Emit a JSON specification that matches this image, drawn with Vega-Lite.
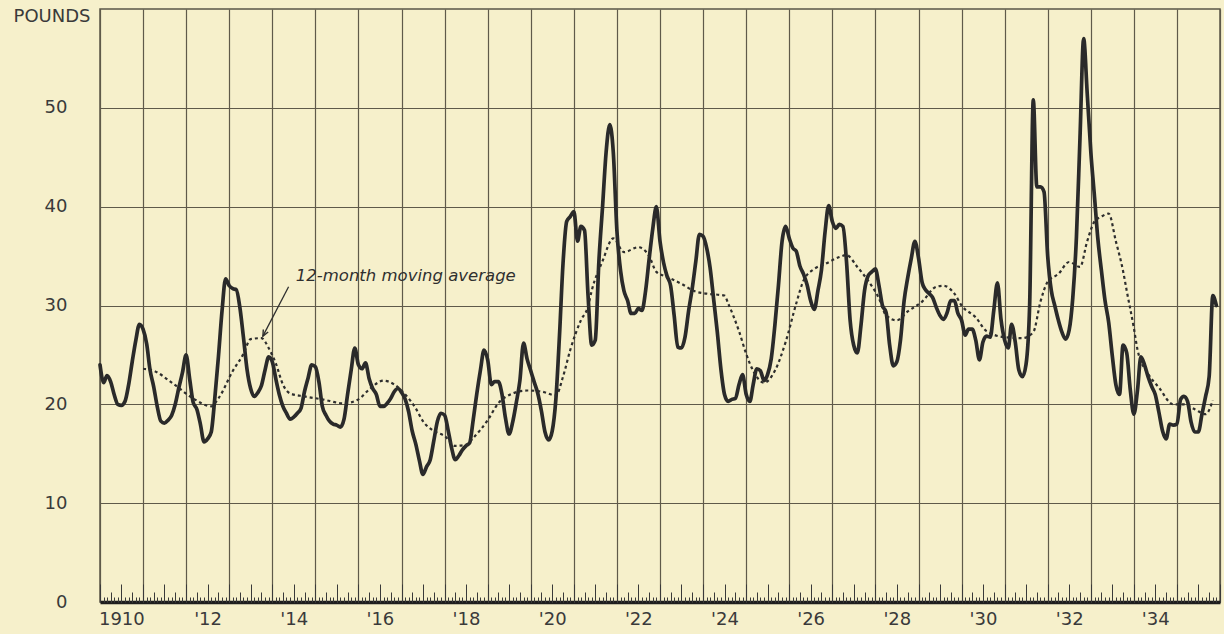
{
  "$schema": "https://vega.github.io/schema/vega-lite/v6.json",
  "width": 1120,
  "height": 593,
  "autosize": {"type": "none"},
  "padding": {"left": 100, "top": 9, "right": 4, "bottom": 32},
  "background": "#f6f0cb",
  "config": {"view": {"stroke": "#5a5548", "strokeWidth": 1.5}, "font": "DejaVu Sans"},
  "resolve": {"axis": {"x": "independent", "y": "independent"}},
  "datasets": {
    "main": [
      {"d":"1910-01","v":24},{"d":"1910-02","v":22.2},{"d":"1910-03","v":22.9},{"d":"1910-04","v":22.3},{"d":"1910-05","v":21},{"d":"1910-06","v":20},{"d":"1910-07","v":19.9},{"d":"1910-08","v":20.3},{"d":"1910-09","v":22},{"d":"1910-10","v":24.3},{"d":"1910-11","v":26.5},{"d":"1910-12","v":28.1},
      {"d":"1911-01","v":27.6},{"d":"1911-02","v":26.1},{"d":"1911-03","v":23.5},{"d":"1911-04","v":21.8},{"d":"1911-05","v":19.8},{"d":"1911-06","v":18.3},{"d":"1911-07","v":18.1},{"d":"1911-08","v":18.4},{"d":"1911-09","v":18.9},{"d":"1911-10","v":20},{"d":"1911-11","v":21.7},{"d":"1911-12","v":23.2},
      {"d":"1912-01","v":25},{"d":"1912-02","v":22.5},{"d":"1912-03","v":20.2},{"d":"1912-04","v":19.5},{"d":"1912-05","v":18},{"d":"1912-06","v":16.2},{"d":"1912-07","v":16.5},{"d":"1912-08","v":17.2},{"d":"1912-09","v":20.7},{"d":"1912-10","v":24.8},{"d":"1912-11","v":29.5},{"d":"1912-12","v":32.7},
      {"d":"1913-01","v":32},{"d":"1913-02","v":31.7},{"d":"1913-03","v":31.6},{"d":"1913-04","v":29.8},{"d":"1913-05","v":26.8},{"d":"1913-06","v":23.5},{"d":"1913-07","v":21.6},{"d":"1913-08","v":20.8},{"d":"1913-09","v":21.2},{"d":"1913-10","v":21.9},{"d":"1913-11","v":23.5},{"d":"1913-12","v":24.8},
      {"d":"1914-01","v":24.3},{"d":"1914-02","v":22.5},{"d":"1914-03","v":21},{"d":"1914-04","v":19.8},{"d":"1914-05","v":19.1},{"d":"1914-06","v":18.5},{"d":"1914-07","v":18.7},{"d":"1914-08","v":19.1},{"d":"1914-09","v":19.6},{"d":"1914-10","v":21.3},{"d":"1914-11","v":22.7},{"d":"1914-12","v":24},
      {"d":"1915-01","v":23.8},{"d":"1915-02","v":22.2},{"d":"1915-03","v":19.8},{"d":"1915-04","v":18.9},{"d":"1915-05","v":18.3},{"d":"1915-06","v":18},{"d":"1915-07","v":17.9},{"d":"1915-08","v":17.7},{"d":"1915-09","v":18.5},{"d":"1915-10","v":21},{"d":"1915-11","v":23.5},{"d":"1915-12","v":25.7},
      {"d":"1916-01","v":24},{"d":"1916-02","v":23.6},{"d":"1916-03","v":24.2},{"d":"1916-04","v":22.6},{"d":"1916-05","v":21.6},{"d":"1916-06","v":21},{"d":"1916-07","v":19.8},{"d":"1916-08","v":19.8},{"d":"1916-09","v":20.1},{"d":"1916-10","v":20.6},{"d":"1916-11","v":21.3},{"d":"1916-12","v":21.6},
      {"d":"1917-01","v":21.2},{"d":"1917-02","v":20.5},{"d":"1917-03","v":19.3},{"d":"1917-04","v":17.3},{"d":"1917-05","v":16},{"d":"1917-06","v":14.3},{"d":"1917-07","v":12.9},{"d":"1917-08","v":13.7},{"d":"1917-09","v":14.4},{"d":"1917-10","v":16.3},{"d":"1917-11","v":18.3},{"d":"1917-12","v":19.1},
      {"d":"1918-01","v":18.9},{"d":"1918-02","v":17.3},{"d":"1918-03","v":15.6},{"d":"1918-04","v":14.4},{"d":"1918-05","v":14.8},{"d":"1918-06","v":15.4},{"d":"1918-07","v":15.8},{"d":"1918-08","v":16.1},{"d":"1918-09","v":18.5},{"d":"1918-10","v":21.1},{"d":"1918-11","v":23.5},{"d":"1918-12","v":25.5},
      {"d":"1919-01","v":24.5},{"d":"1919-02","v":22},{"d":"1919-03","v":22.3},{"d":"1919-04","v":22.3},{"d":"1919-05","v":21.1},{"d":"1919-06","v":18.6},{"d":"1919-07","v":17},{"d":"1919-08","v":18.2},{"d":"1919-09","v":20.2},{"d":"1919-10","v":22.4},{"d":"1919-11","v":26.2},{"d":"1919-12","v":24.6},
      {"d":"1920-01","v":23.4},{"d":"1920-02","v":22.2},{"d":"1920-03","v":21.1},{"d":"1920-04","v":19.3},{"d":"1920-05","v":17.2},{"d":"1920-06","v":16.4},{"d":"1920-07","v":17.3},{"d":"1920-08","v":20.5},{"d":"1920-09","v":27},{"d":"1920-10","v":34.3},{"d":"1920-11","v":38.5},{"d":"1920-12","v":39},
      {"d":"1921-01","v":39.5},{"d":"1921-02","v":36.5},{"d":"1921-03","v":38},{"d":"1921-04","v":37.6},{"d":"1921-05","v":31},{"d":"1921-06","v":26},{"d":"1921-07","v":26.5},{"d":"1921-08","v":34.5},{"d":"1921-09","v":40},{"d":"1921-10","v":45.5},{"d":"1921-11","v":48.3},{"d":"1921-12","v":45.5},
      {"d":"1922-01","v":37.5},{"d":"1922-02","v":33.5},{"d":"1922-03","v":31.5},{"d":"1922-04","v":30.5},{"d":"1922-05","v":29.2},{"d":"1922-06","v":29.2},{"d":"1922-07","v":29.7},{"d":"1922-08","v":29.5},{"d":"1922-09","v":31.5},{"d":"1922-10","v":34.7},{"d":"1922-11","v":37.8},{"d":"1922-12","v":40},
      {"d":"1923-01","v":36.5},{"d":"1923-02","v":34.3},{"d":"1923-03","v":33},{"d":"1923-04","v":32},{"d":"1923-05","v":29},{"d":"1923-06","v":25.8},{"d":"1923-07","v":25.7},{"d":"1923-08","v":26.8},{"d":"1923-09","v":29.5},{"d":"1923-10","v":31.7},{"d":"1923-11","v":34.5},{"d":"1923-12","v":37.2},
      {"d":"1924-01","v":37},{"d":"1924-02","v":35.8},{"d":"1924-03","v":33.8},{"d":"1924-04","v":30.5},{"d":"1924-05","v":27.3},{"d":"1924-06","v":23.5},{"d":"1924-07","v":21},{"d":"1924-08","v":20.3},{"d":"1924-09","v":20.5},{"d":"1924-10","v":20.6},{"d":"1924-11","v":22},{"d":"1924-12","v":23},
      {"d":"1925-01","v":21},{"d":"1925-02","v":20.3},{"d":"1925-03","v":22},{"d":"1925-04","v":23.6},{"d":"1925-05","v":23.4},{"d":"1925-06","v":22.4},{"d":"1925-07","v":23},{"d":"1925-08","v":24.6},{"d":"1925-09","v":28},{"d":"1925-10","v":32},{"d":"1925-11","v":36.5},{"d":"1925-12","v":38},
      {"d":"1926-01","v":36.8},{"d":"1926-02","v":35.8},{"d":"1926-03","v":35.5},{"d":"1926-04","v":34},{"d":"1926-05","v":33.2},{"d":"1926-06","v":32.1},{"d":"1926-07","v":30.5},{"d":"1926-08","v":29.6},{"d":"1926-09","v":31.5},{"d":"1926-10","v":33.6},{"d":"1926-11","v":37.5},{"d":"1926-12","v":40.1},
      {"d":"1927-01","v":38.5},{"d":"1927-02","v":37.8},{"d":"1927-03","v":38.2},{"d":"1927-04","v":38},{"d":"1927-05","v":34.5},{"d":"1927-06","v":28.5},{"d":"1927-07","v":26},{"d":"1927-08","v":25.2},{"d":"1927-09","v":28},{"d":"1927-10","v":31.5},{"d":"1927-11","v":33},{"d":"1927-12","v":33.4},
      {"d":"1928-01","v":33.7},{"d":"1928-02","v":32},{"d":"1928-03","v":30},{"d":"1928-04","v":29.3},{"d":"1928-05","v":26},{"d":"1928-06","v":23.9},{"d":"1928-07","v":24.3},{"d":"1928-08","v":26.5},{"d":"1928-09","v":30.5},{"d":"1928-10","v":32.8},{"d":"1928-11","v":34.8},{"d":"1928-12","v":36.5},
      {"d":"1929-01","v":34.8},{"d":"1929-02","v":32.3},{"d":"1929-03","v":31.6},{"d":"1929-04","v":31.2},{"d":"1929-05","v":30.8},{"d":"1929-06","v":29.8},{"d":"1929-07","v":29},{"d":"1929-08","v":28.6},{"d":"1929-09","v":29.3},{"d":"1929-10","v":30.5},{"d":"1929-11","v":30.5},{"d":"1929-12","v":29.2},
      {"d":"1930-01","v":28.5},{"d":"1930-02","v":27},{"d":"1930-03","v":27.6},{"d":"1930-04","v":27.6},{"d":"1930-05","v":26.5},{"d":"1930-06","v":24.5},{"d":"1930-07","v":26.3},{"d":"1930-08","v":26.9},{"d":"1930-09","v":26.8},{"d":"1930-10","v":29.5},{"d":"1930-11","v":32.3},{"d":"1930-12","v":28.6},
      {"d":"1931-01","v":26.5},{"d":"1931-02","v":25.7},{"d":"1931-03","v":28.1},{"d":"1931-04","v":26.3},{"d":"1931-05","v":23.5},{"d":"1931-06","v":22.8},{"d":"1931-07","v":24},{"d":"1931-08","v":30},{"d":"1931-09","v":50.8},{"d":"1931-10","v":42},{"d":"1931-11","v":42},{"d":"1931-12","v":41.5},
      {"d":"1932-01","v":35},{"d":"1932-02","v":31.5},{"d":"1932-03","v":30},{"d":"1932-04","v":28.5},{"d":"1932-05","v":27.3},{"d":"1932-06","v":26.6},{"d":"1932-07","v":27.5},{"d":"1932-08","v":30.8},{"d":"1932-09","v":37},{"d":"1932-10","v":47},{"d":"1932-11","v":57},{"d":"1932-12","v":51.5},
      {"d":"1933-01","v":45.5},{"d":"1933-02","v":41},{"d":"1933-03","v":36.8},{"d":"1933-04","v":33.5},{"d":"1933-05","v":30.5},{"d":"1933-06","v":28.3},{"d":"1933-07","v":25},{"d":"1933-08","v":22},{"d":"1933-09","v":21},{"d":"1933-10","v":26},{"d":"1933-11","v":25.2},{"d":"1933-12","v":21.5},
      {"d":"1934-01","v":19},{"d":"1934-02","v":21.5},{"d":"1934-03","v":24.8},{"d":"1934-04","v":24},{"d":"1934-05","v":22.8},{"d":"1934-06","v":21.8},{"d":"1934-07","v":21},{"d":"1934-08","v":19.2},{"d":"1934-09","v":17.3},{"d":"1934-10","v":16.5},{"d":"1934-11","v":18},{"d":"1934-12","v":17.9},
      {"d":"1935-01","v":18},{"d":"1935-02","v":20.5},{"d":"1935-03","v":20.8},{"d":"1935-04","v":20.3},{"d":"1935-05","v":18.2},{"d":"1935-06","v":17.2},{"d":"1935-07","v":17.2},{"d":"1935-08","v":19},{"d":"1935-09","v":20.8},{"d":"1935-10","v":22.8},{"d":"1935-11","v":31},{"d":"1935-12","v":30}
    ],
    "ma": [
      {"d":"1911-01","v":23.6},{"d":"1911-04","v":23.4},{"d":"1911-09","v":22.2},{"d":"1912-03","v":20.6},{"d":"1912-08","v":19.8},{"d":"1912-10","v":20.6},
      {"d":"1913-02","v":23.4},{"d":"1913-05","v":25.1},{"d":"1913-07","v":26.6},{"d":"1913-10","v":26.7},{"d":"1913-12","v":25.7},
      {"d":"1914-02","v":24.1},{"d":"1914-04","v":22},{"d":"1914-06","v":21.1},{"d":"1914-10","v":20.8},
      {"d":"1915-03","v":20.5},{"d":"1915-09","v":20.1},
      {"d":"1916-01","v":20.5},{"d":"1916-04","v":21.5},{"d":"1916-08","v":22.4},{"d":"1916-11","v":22},
      {"d":"1917-02","v":21},{"d":"1917-05","v":19.6},{"d":"1917-07","v":18.3},{"d":"1917-10","v":17.3},
      {"d":"1918-01","v":16.8},{"d":"1918-04","v":15.8},{"d":"1918-07","v":15.9},{"d":"1918-09","v":16.6},
      {"d":"1919-01","v":18.4},{"d":"1919-04","v":20.1},{"d":"1919-08","v":21.1},{"d":"1919-12","v":21.4},
      {"d":"1920-04","v":21.3},{"d":"1920-08","v":20.9},{"d":"1920-10","v":22.8},{"d":"1920-12","v":25.5},
      {"d":"1921-03","v":28.5},{"d":"1921-05","v":29.9},{"d":"1921-06","v":31.5},{"d":"1921-09","v":34.5},{"d":"1921-12","v":36.8},
      {"d":"1922-03","v":35.4},{"d":"1922-07","v":35.9},{"d":"1922-10","v":35},{"d":"1922-12","v":33.4},
      {"d":"1923-03","v":32.9},{"d":"1923-07","v":32.2},{"d":"1923-11","v":31.4},
      {"d":"1924-02","v":31.2},{"d":"1924-07","v":31},{"d":"1924-08","v":30.2},{"d":"1924-11","v":27.4},
      {"d":"1925-01","v":25.1},{"d":"1925-03","v":23.4},{"d":"1925-06","v":22.2},{"d":"1925-09","v":23.4},{"d":"1925-12","v":26.3},
      {"d":"1926-03","v":30.2},{"d":"1926-05","v":32.5},{"d":"1926-08","v":33.7},{"d":"1926-11","v":34.2},
      {"d":"1927-03","v":34.9},{"d":"1927-05","v":35.1},{"d":"1927-08","v":33.9},{"d":"1927-11","v":32.5},
      {"d":"1928-02","v":30.7},{"d":"1928-04","v":29},{"d":"1928-07","v":28.5},{"d":"1928-10","v":29.4},
      {"d":"1929-02","v":30.4},{"d":"1929-06","v":31.9},{"d":"1929-08","v":32},{"d":"1929-11","v":31.2},
      {"d":"1930-01","v":30},{"d":"1930-05","v":28.8},{"d":"1930-08","v":27.4},
      {"d":"1931-01","v":26.8},{"d":"1931-06","v":26.7},{"d":"1931-09","v":27.3},{"d":"1931-11","v":30.4},
      {"d":"1932-01","v":32.4},{"d":"1932-04","v":33.2},{"d":"1932-07","v":34.4},{"d":"1932-10","v":33.9},{"d":"1932-12","v":36.5},
      {"d":"1933-02","v":38.5},{"d":"1933-04","v":39},{"d":"1933-06","v":39.3},{"d":"1933-08","v":36.5},{"d":"1933-10","v":33.5},{"d":"1933-11","v":31.5},
      {"d":"1934-01","v":27.7},{"d":"1934-02","v":25.5},{"d":"1934-05","v":23.1},{"d":"1934-08","v":21.7},{"d":"1934-12","v":20},
      {"d":"1935-03","v":20},{"d":"1935-06","v":19.5},{"d":"1935-09","v":19},{"d":"1935-11","v":20.4}
    ]
  },
  "layer": [
    {
      "data": {"name": "main", "format": {"parse": {"d": "utc:'%Y-%m'"}}},
      "mark": {"type": "line", "interpolate": "monotone", "stroke": "#2a2a2a", "strokeWidth": 3.7, "strokeJoin": "round", "strokeCap": "round"},
      "encoding": {
        "x": {"field": "d", "type": "temporal",
          "scale": {"type": "utc", "domain": [{"year": 1910, "month": 1, "date": 1, "utc": true}, {"year": 1936, "month": 1, "date": 1, "utc": true}]},
          "axis": {"orient": "bottom", "title": null, "tickCount": {"interval": "year", "step": 1}, "grid": true, "gridColor": "#5f5a4a", "gridWidth": 1.2, "gridOpacity": 1, "ticks": false, "labels": false, "domain": true, "domainColor": "#1e1e1e", "domainWidth": 3.5}},
        "y": {"field": "v", "type": "quantitative",
          "scale": {"domain": [0, 60], "nice": false},
          "axis": {"orient": "left", "title": null, "values": [0, 10, 20, 30, 40, 50], "grid": true, "gridColor": "#5f5a4a", "gridWidth": 1.2, "gridOpacity": 1, "ticks": false, "domain": false, "labelFont": "DejaVu Sans", "labelFontSize": 18, "labelColor": "#3a3a3a", "labelPadding": 33}}
      }
    },
    {
      "data": {"name": "ma", "format": {"parse": {"d": "utc:'%Y-%m'"}}},
      "mark": {"type": "line", "interpolate": "monotone", "stroke": "#2e2e2e", "strokeWidth": 2.2, "strokeDash": [3, 3]},
      "encoding": {
        "x": {"field": "d", "type": "temporal",
          "scale": {"type": "utc", "domain": [{"year": 1910, "month": 1, "date": 1, "utc": true}, {"year": 1936, "month": 1, "date": 1, "utc": true}]},
          "axis": {"orient": "bottom", "title": null,
            "values": [{"year": 1910, "month": 7, "date": 1, "utc": true}, {"year": 1912, "month": 7, "date": 1, "utc": true}, {"year": 1914, "month": 7, "date": 1, "utc": true}, {"year": 1916, "month": 7, "date": 1, "utc": true}, {"year": 1918, "month": 7, "date": 1, "utc": true}, {"year": 1920, "month": 7, "date": 1, "utc": true}, {"year": 1922, "month": 7, "date": 1, "utc": true}, {"year": 1924, "month": 7, "date": 1, "utc": true}, {"year": 1926, "month": 7, "date": 1, "utc": true}, {"year": 1928, "month": 7, "date": 1, "utc": true}, {"year": 1930, "month": 7, "date": 1, "utc": true}, {"year": 1932, "month": 7, "date": 1, "utc": true}, {"year": 1934, "month": 7, "date": 1, "utc": true}],
            "labelExpr": "utcyear(datum.value) == 1910 ? '1910' : \"'\" + substring(toString(utcyear(datum.value)), 2, 4)",
            "grid": false, "ticks": false, "domain": false, "labelFont": "DejaVu Sans", "labelFontSize": 18, "labelColor": "#3a3a3a", "labelPadding": 8, "labelAlign": "center", "labelBaseline": "top", "labelFlush": false, "labelOverlap": false}},
        "y": {"field": "v", "type": "quantitative",
          "scale": {"domain": [0, 60], "nice": false},
          "axis": {"orient": "left", "title": null, "values": [60], "labelExpr": "'POUNDS'", "grid": false, "ticks": false, "domain": false, "labelFont": "DejaVu Sans", "labelFontSize": 18, "labelColor": "#3a3a3a", "labelPadding": 10, "labelOffset": 7, "labelFlush": false}}
      }
    },
    {
      "data": {"values": [{"d": "1914-07-19", "v": 32.5, "t": "12-month moving average"}], "format": {"parse": {"d": "utc:'%Y-%m-%d'"}}},
      "mark": {"type": "text", "align": "left", "baseline": "alphabetic", "font": "DejaVu Sans", "fontStyle": "italic", "fontSize": 16.5, "color": "#2f2f2f"},
      "encoding": {
        "x": {"field": "d", "type": "temporal",
          "scale": {"type": "utc", "domain": [{"year": 1910, "month": 1, "date": 1, "utc": true}, {"year": 1936, "month": 1, "date": 1, "utc": true}]},
          "axis": {"orient": "bottom", "title": null, "tickCount": {"interval": "month", "step": 1}, "ticks": true, "tickSize": -5, "tickColor": "#3a3a3a", "tickWidth": 1, "labels": false, "grid": false, "domain": false}},
        "y": {"field": "v", "type": "quantitative", "scale": {"domain": [0, 60], "nice": false}, "axis": null},
        "text": {"field": "t"}
      }
    },
    {
      "data": {"values": [{"d": "1914-05-19", "v": 31.9, "d2": "1913-10-13", "v2": 26.9}], "format": {"parse": {"d": "utc:'%Y-%m-%d'", "d2": "utc:'%Y-%m-%d'"}}},
      "mark": {"type": "rule", "stroke": "#2f2f2f", "strokeWidth": 1.3},
      "encoding": {
        "x": {"field": "d", "type": "temporal",
          "scale": {"type": "utc", "domain": [{"year": 1910, "month": 1, "date": 1, "utc": true}, {"year": 1936, "month": 1, "date": 1, "utc": true}]},
          "axis": {"orient": "bottom", "title": null, "tickCount": {"interval": "month", "step": 3}, "ticks": true, "tickSize": -10, "tickColor": "#3a3a3a", "tickWidth": 1, "labels": false, "grid": false, "domain": false}},
        "x2": {"field": "d2"},
        "y": {"field": "v", "type": "quantitative", "scale": {"domain": [0, 60], "nice": false}, "axis": null},
        "y2": {"field": "v2"}
      }
    },
    {
      "data": {"values": [{"d": "1913-10-13", "v": 26.9}], "format": {"parse": {"d": "utc:'%Y-%m-%d'"}}},
      "mark": {"type": "point", "shape": "M-0.45,1L0,0L0.45,1", "angle": 208, "size": 150, "filled": false, "stroke": "#2f2f2f", "strokeWidth": 1.4, "opacity": 1},
      "encoding": {
        "x": {"field": "d", "type": "temporal",
          "scale": {"type": "utc", "domain": [{"year": 1910, "month": 1, "date": 1, "utc": true}, {"year": 1936, "month": 1, "date": 1, "utc": true}]},
          "axis": {"orient": "bottom", "title": null, "tickCount": {"interval": "month", "step": 6}, "ticks": true, "tickSize": -18, "tickColor": "#3a3a3a", "tickWidth": 1, "labels": false, "grid": false, "domain": false}},
        "y": {"field": "v", "type": "quantitative", "scale": {"domain": [0, 60], "nice": false}, "axis": null}
      }
    }
  ]
}
